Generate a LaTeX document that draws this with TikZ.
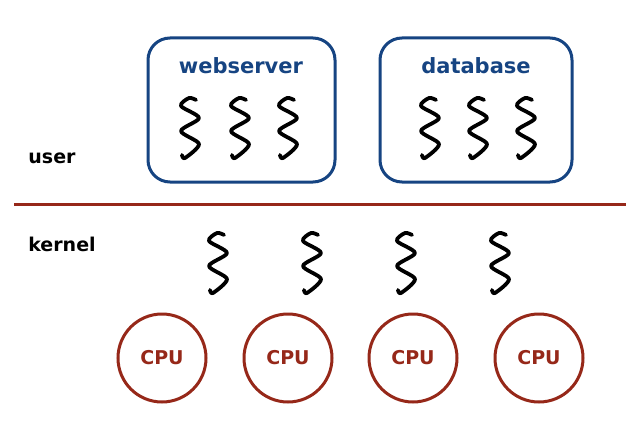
\documentclass[tikz,border=0pt]{standalone}
\usepackage{fontspec}
\setmainfont{DejaVu Sans}
\definecolor{bl}{RGB}{22,68,130}
\definecolor{rd}{RGB}{150,40,25}
\begin{document}
\begin{tikzpicture}[x=1pt,y=-1pt,
  box/.style={draw=bl, line width=3pt, rounded corners=22pt},
  cpu/.style={circle, draw=rd, line width=3pt, minimum size=88pt, font=\bfseries\fontsize{19}{22}\selectfont, text=rd},
  lbl/.style={font=\bfseries\fontsize{21}{24}\selectfont, text=bl},
  side/.style={font=\bfseries\fontsize{19}{22}\selectfont},
  sq/.pic={\draw[line width=3.8pt, line cap=round, line join=round] plot[smooth, tension=0.5] coordinates {(6,2) (-1,0) (-9,8) (9,20) (-9,33) (9,46) (-5,60) (-8,57)};}]
\useasboundingbox (0,0) rectangle (640,436);
\fill[white] (0,0) rectangle (640,436);
\node[box, minimum width=187pt, minimum height=144pt] (ws) at (241.5,110) {};
\node[box, minimum width=192pt, minimum height=144pt] (db) at (476,110) {};
\node[lbl] (wst) at (241,66) {webserver};
\node[lbl] (dbt) at (476,66) {database};
\foreach \x/\n in {190/a,240/b,288/c,430/d,478/e,526/f} \pic (s\n) at (\x,98) {sq};
\foreach \x/\n in {218/g,312/h,406/i,500/j} \pic (s\n) at (\x,233) {sq};
\coordinate (l1) at (14,204); \coordinate (l2) at (626,204);
\draw[rd, line width=3pt] (l1) -- (l2);
\node[side] (u) at (52,158) {user};
\node[side] (k) at (62,244) {kernel};
\foreach \x/\n in {162/1,288/2,413/3,539/4} \node[cpu] (c\n) at (\x,358) {CPU};
\end{tikzpicture}
\end{document}
